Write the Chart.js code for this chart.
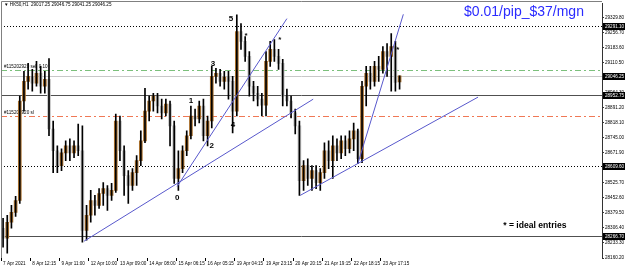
<!DOCTYPE html>
<html>
<head>
<meta charset="utf-8">
<script src="https://cdn.jsdelivr.net/npm/chart.js@4.4.1/dist/chart.umd.min.js"></script>
<style>
  html, body { margin: 0; padding: 0; background: #fff; }
  #wrap { width: 625px; height: 270px; }
</style>
</head>
<body>
<div id="wrap"><canvas id="hk50" width="625" height="270"></canvas></div>
<script>
// HK50 H1, 7 Apr - 23 Apr 2021
var timeLabels = ["7 Apr 2021", "8 Apr 12:15", "9 Apr 11:00", "12 Apr 10:00", "13 Apr 09:00",
  "14 Apr 08:00", "15 Apr 06:15", "16 Apr 05:15", "19 Apr 04:15", "19 Apr 23:15",
  "20 Apr 20:15", "21 Apr 19:15", "22 Apr 18:15", "23 Apr 17:15"];
var barsPerLabel = 7;
var slotCount = 144; // bars + empty space on the right (chart shift)

var opens = [28305,28257,28334,28382,28440,28924,29020,29044,29011,29059,
  28996,29030,28788,28682,28610,28672,28706,28672,28706,28682,
  28295,28368,28440,28416,28474,28498,28465,28489,28827,28682,
  28561,28513,28576,28634,28730,28875,28924,28948,28900,28866,
  28909,28803,28547,28595,28682,28755,28851,28837,28900,28755,
  28827,29044,29059,29020,29040,29020,28875,29262,29214,29141,
  28996,28962,28933,28904,29117,29175,29141,29107,28948,28924,
  28866,28803,28537,28610,28547,28585,28527,28576,28682,28634,
  28706,28672,28730,28692,28740,28779,28643,28996,29059,29020,
  29093,29078,29165,29141,29189,29017.25];
var highs = [28353,28368,28416,28460,28948,29069,29107,29078,29117,29093,
  29069,29131,28827,28706,28692,28730,28740,28730,28812,28803,
  28416,28489,28465,28498,28527,28513,28523,28861,28851,28706,
  28585,28595,28658,28779,28986,28948,28962,28962,28933,28933,
  28924,28827,28682,28706,28779,28900,28885,28924,28933,28851,
  29093,29083,29078,29069,29069,29044,29344,29301,29238,29165,
  29020,28996,28962,29165,29214,29223,29175,29127,28982,28948,
  28885,28827,28634,28643,28610,28610,28595,28721,28730,28755,
  28740,28755,28755,28779,28817,28788,29020,29093,29093,29117,
  29141,29189,29204,29252,29214,29046.75];
var lows = [28213,28184,28305,28363,28426,28875,28982,28972,28996,28962,
  28962,28755,28576,28576,28585,28634,28634,28648,28658,28237,
  28247,28334,28368,28402,28416,28392,28440,28479,28634,28465,
  28426,28489,28513,28610,28721,28827,28875,28866,28837,28851,
  28706,28523,28489,28576,28658,28740,28803,28817,28730,28706,
  28793,29011,28996,28982,28933,28769,28851,29175,29117,28948,
  28924,28900,28851,28851,29093,29117,29078,28900,28900,28842,
  28764,28465,28489,28513,28489,28498,28489,28547,28595,28547,
  28634,28643,28658,28672,28682,28619,28624,28900,28982,28996,
  29020,29059,29044,28972,28972,28982];
var closes = [28257,28334,28382,28440,28924,29020,29044,29011,29059,28996,
  29030,28788,28682,28610,28672,28706,28672,28706,28682,28295,
  28368,28440,28416,28474,28498,28465,28489,28827,28682,28561,
  28513,28576,28634,28730,28875,28924,28948,28900,28866,28909,
  28803,28547,28595,28682,28755,28851,28837,28900,28755,28827,
  29044,29059,29020,29040,29020,28875,29262,29214,29141,28996,
  28962,28933,28904,29117,29175,29141,29107,28948,28924,28866,
  28803,28537,28610,28547,28585,28527,28576,28682,28634,28706,
  28672,28730,28692,28740,28779,28643,28996,29059,29020,29093,
  29078,29165,29141,29189,29015,29046.25];

// price scale labels
var yTicks = [28160.20, 28233.30, 28306.40, 28379.50, 28452.60, 28525.70, 28598.80, 28671.90,
  28745.00, 28818.10, 28891.20, 28964.30, 29037.40, 29110.50, 29183.60, 29256.70, 29329.80];
var yMin = 28160.2, yMax = 29397.3;

// horizontal levels drawn on the chart
var levelPrices = [29291.10, 29073.55, 29046.25, 28952.75, 28851.20, 28609.60, 28266.70];
var levelStyles = [
  { color: "#000000", dash: [1, 2], box: true },
  { color: "#7cc07c", dash: [6, 3, 2, 3], box: false },
  { color: "#c8c8c8", dash: [], box: true },
  { color: "#505050", dash: [], box: true },
  { color: "#f07855", dash: [6, 3, 2, 3], box: false },
  { color: "#000000", dash: [1, 2], box: true },
  { color: "#505050", dash: [], box: true }
];
var orderTexts = ["#115202920 sell 0.10", "#115202920 sl"];
var orderLevels = [1, 4];

// trend lines: [bar from, price from, bar to, price to]
var trendLines = [
  [19.4, 28242, 74.3, 28933],
  [41.7, 28508, 68.0, 29325],
  [71.2, 28465, 113.8, 28943],
  [85.0, 28619, 95.9, 29346]
];

// wave counts and entry marks: text, bar, price
var noteTexts = ["5", "3", "1", "2", "4", "0", "*", "*", "*"];
var noteBars = [54.6, 50.3, 45.0, 50.0, 55.1, 41.7, 58.2, 66.3, 94.6];
var notePrices = [29325, 29107, 28924, 28706, 28808, 28455, 29243, 29223, 29175];

var titleText = "\u25BC HK50,H1  29017.25 29046.75 29041.25 29046.25";
var pipText = "$0.01/pip_$37/mgn";
var legendNote = "* = ideal entries";

var bullColor = "#a86f2c";
var bearColor = "#c4c4c4";

var categories = [];
for (var i = 0; i < slotCount; i++) {
  categories.push(i % barsPerLabel === 0 && i / barsPerLabel < timeLabels.length ? timeLabels[i / barsPerLabel] : "");
}
var bodies = opens.map(function (o, k) { return [o, closes[k]]; });
var wicks = lows.map(function (l, k) { return [l, highs[k]]; });
var bodyColors = opens.map(function (o, k) { return closes[k] >= o ? bullColor : bearColor; });

var tiny = { family: "Liberation Sans", size: 4.6 };

var overlay = {
  id: "overlay",
  beforeDatasetsDraw: function (chart) {
    var ctx = chart.ctx, a = chart.chartArea, y = chart.scales.y;
    ctx.save();
    ctx.beginPath();
    ctx.rect(a.left, a.top, a.right - a.left, a.bottom - a.top);
    ctx.clip();
    ctx.lineWidth = 1;
    levelPrices.forEach(function (v, k) {
      var st = levelStyles[k];
      var py = Math.round(y.getPixelForValue(v)) + 0.5;
      ctx.strokeStyle = st.color;
      ctx.setLineDash(st.dash);
      ctx.beginPath();
      ctx.moveTo(a.left, py);
      ctx.lineTo(a.right, py);
      ctx.stroke();
    });
    ctx.setLineDash([]);
    ctx.fillStyle = "#000";
    ctx.font = "4.6px 'Liberation Sans'";
    ctx.textAlign = "left";
    ctx.textBaseline = "bottom";
    orderLevels.forEach(function (lv, k) {
      var py = y.getPixelForValue(levelPrices[lv]);
      ctx.fillText(orderTexts[k], a.left + 3, py - 1);
    });
    ctx.restore();
  },
  afterDatasetsDraw: function (chart) {
    var ctx = chart.ctx, a = chart.chartArea, x = chart.scales.x, y = chart.scales.y;
    ctx.save();
    ctx.beginPath();
    ctx.rect(a.left, a.top, a.right - a.left, a.bottom - a.top);
    ctx.clip();
    ctx.strokeStyle = "#5858cc";
    ctx.lineWidth = 1;
    trendLines.forEach(function (t) {
      ctx.beginPath();
      ctx.moveTo(x.getPixelForValue(t[0]), y.getPixelForValue(t[1]));
      ctx.lineTo(x.getPixelForValue(t[2]), y.getPixelForValue(t[3]));
      ctx.stroke();
    });
    ctx.fillStyle = "#000";
    ctx.font = "bold 8px 'Liberation Sans'";
    ctx.textAlign = "center";
    ctx.textBaseline = "middle";
    noteTexts.forEach(function (s, k) {
      ctx.fillText(s, x.getPixelForValue(noteBars[k]), y.getPixelForValue(notePrices[k]));
    });
    ctx.font = "bold 8.6px 'Liberation Sans'";
    ctx.fillText(legendNote, x.getPixelForValue(127.4), y.getPixelForValue(28320));
    ctx.restore();
  },
  afterDraw: function (chart) {
    var ctx = chart.ctx, a = chart.chartArea, y = chart.scales.y;
    ctx.save();
    // frame
    ctx.strokeStyle = "#808080";
    ctx.lineWidth = 1;
    ctx.beginPath();
    ctx.moveTo(1.5, a.bottom);
    ctx.lineTo(1.5, 1.5);
    ctx.lineTo(a.right, 1.5);
    ctx.stroke();
    // price boxes on the scale
    ctx.font = "4.6px 'Liberation Sans'";
    ctx.textAlign = "left";
    ctx.textBaseline = "middle";
    levelPrices.forEach(function (v, k) {
      if (!levelStyles[k].box) return;
      var py = Math.round(y.getPixelForValue(v));
      ctx.fillStyle = "#000";
      ctx.fillRect(a.right + 1, py - 3, 22, 7);
      ctx.fillStyle = "#fff";
      ctx.fillText(v.toFixed(2), a.right + 3, py + 0.5);
    });
    // symbol line
    ctx.fillStyle = "#000";
    ctx.fillText(titleText, 4, 5);
    // pip value note
    ctx.fillStyle = "#2b2bff";
    ctx.font = "14px 'Liberation Sans'";
    ctx.textAlign = "center";
    ctx.fillText(pipText, 524, 12);
    ctx.restore();
  }
};

new Chart(document.getElementById("hk50"), {
  type: "bar",
  data: {
    labels: categories,
    datasets: [
      {
        label: "wick",
        data: wicks,
        backgroundColor: "#000",
        barThickness: 1,
        grouped: false,
        order: 0
      },
      {
        label: "body",
        data: bodies,
        backgroundColor: bodyColors,
        barThickness: 3,
        grouped: false,
        order: 1
      }
    ]
  },
  options: {
    responsive: false,
    animation: false,
    layout: { padding: { left: 1, top: 2, right: 0, bottom: 0 } },
    plugins: { legend: { display: false }, tooltip: { enabled: false } },
    scales: {
      x: {
        offset: true,
        border: { display: false },
        grid: {
          drawOnChartArea: false,
          tickLength: 3,
          color: function (c) { return c.tick && c.tick.label ? "#000" : "rgba(0,0,0,0)"; }
        },
        ticks: { autoSkip: false, maxRotation: 0, align: "start", padding: 0, color: "#000", font: tiny },
        afterFit: function (s) { s.height = 12; }
      },
      y: {
        position: "right",
        min: yMin,
        max: yMax,
        border: { display: true, color: "#333" },
        grid: { drawOnChartArea: false, tickLength: 2, color: "#333" },
        ticks: {
          color: "#000",
          font: tiny,
          padding: 1,
          callback: function (v) { return Number(v).toFixed(2); }
        },
        afterBuildTicks: function (s) { s.ticks = yTicks.map(function (v) { return { value: v }; }); },
        afterFit: function (s) { s.width = 23; }
      }
    }
  },
  plugins: [overlay]
});
</script>
</body>
</html>
